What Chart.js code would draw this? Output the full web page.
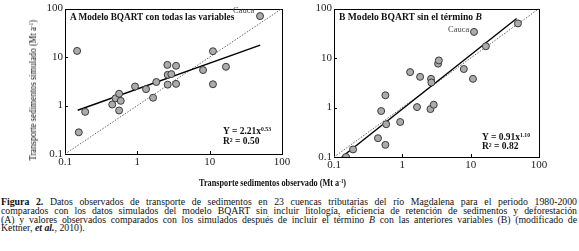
<!DOCTYPE html>
<html>
<head>
<meta charset="utf-8">
<script src="https://cdn.jsdelivr.net/npm/chart.js@4.4.1/dist/chart.umd.min.js"></script>
<style>
  body { margin: 0; background: #fff; width: 579px; height: 251px; overflow: hidden; position: relative; font-family: "Liberation Serif", serif; color: #111; }
  canvas { position: absolute; top: 0; }
  .t { position: absolute; white-space: nowrap; line-height: 1; transform-origin: 0 50%; }
  .b { font-weight: bold; }
  sup { font-size: 0.6em; vertical-align: 0.55em; line-height: 0; }
  .cap { position: absolute; left: 1px; width: 576px; font-size: 9.8px; line-height: 8.8px; }
  .cap div { text-align: justify; text-align-last: justify; white-space: nowrap; }
  .cap div.last { text-align-last: left; }
</style>
</head>
<body>
<canvas id="panelA" width="300" height="172" style="left:0"></canvas>
<canvas id="panelB" width="299" height="172" style="left:280px"></canvas>

<!-- textos de los paneles -->
<div class="t b" data-w="164" style="left:70px;top:12px;font-size:10px">A Modelo BQART con todas las variables</div>
<div class="t" style="left:233px;top:6px;font-size:8.5px;color:#444">Cauca</div>
<div class="t b" style="left:223px;top:127px;font-size:9.5px">Y = 2.21x<sup>0.53</sup></div>
<div class="t b" style="left:223px;top:137px;font-size:9.5px">R² = 0.50</div>

<div class="t b" data-w="143" style="left:339px;top:12px;font-size:10px">B Modelo BQART sin el término <i>B</i></div>
<div class="t" style="left:448px;top:25px;font-size:8.5px;color:#444">Cauca</div>
<div class="t b" style="left:482px;top:133px;font-size:9.5px">Y = 0.91x<sup>1.10</sup></div>
<div class="t b" style="left:482px;top:142px;font-size:9.5px">R² = 0.82</div>

<!-- titulos de ejes -->
<div id="ytitle" class="t" style="font-size:10.5px">Transporte sedimentos simulado (Mt a<sup>-1</sup>)</div>
<div class="t b" data-w="147" style="left:199px;top:178px;font-size:10px">Transporte sedimentos observado (Mt a<sup>-1</sup>)</div>

<div class="cap" style="top:198px">
  <div><b>Figura 2.</b> Datos observados de transporte de sedimentos en 23 cuencas tributarias del río Magdalena para el periodo 1980-2000</div>
  <div>comparados con los datos simulados del modelo BQART sin incluir litología, eficiencia de retención de sedimentos y deforestación</div>
  <div>(A) y valores observados comparados con los simulados después de incluir el término <i>B</i> con las anteriores variables (B) (modificado de</div>
  <div class="last">Kettner, <b><i>et al.</i></b>, 2010).</div>
</div>

<script>
// ejes log
const tickVals = [0.1, 1, 10, 100];
const tickLabels = ['0.1', '1', '10', '100'];

// Panel A: observado vs simulado (con todas las variables)
const obsA = [0.147, 0.155, 0.19, 0.45, 0.50, 0.56, 0.59, 0.56, 0.93, 1.32, 1.83, 1.65, 2.6, 2.63, 2.63, 2.95, 3.43, 3.43, 8.1, 11.1, 11.1, 16.8, 49.7];
const simA = [13.4, 0.28, 0.74, 1.05, 1.41, 1.75, 1.25, 0.79, 2.47, 2.18, 3.06, 1.45, 6.9, 4.3, 2.7, 4.45, 6.6, 2.8, 5.4, 13.2, 2.75, 6.3, 70];
const fitAx = [0.15, 50];
const fitAy = [0.80, 17.6];

// Panel B: sin el termino B
const obsB = [0.15, 0.19, 0.44, 0.565, 0.49, 0.58, 0.565, 0.93, 1.3, 1.64, 1.82, 2.58, 2.63, 2.66, 2.88, 3.34, 3.42, 7.94, 10.8, 11.2, 16.7, 49.2];
const simB = [0.1, 0.142, 0.24, 0.176, 0.85, 0.46, 1.77, 0.51, 5.2, 1.02, 4.17, 0.93, 3.8, 3.2, 1.14, 7.7, 8.96, 6.0, 3.8, 33.8, 17.3, 50.2];
const fitBx = [0.13, 47];
const fitBy = [0.1, 63];

// linea 1:1
const oneToOne = [0.1, 100];

const pairs = (xs, ys) => xs.map((x, i) => ({ x: x, y: ys[i] }));

// marco del grafico y marcas hacia dentro
const frame = {
    id: 'frame',
    beforeDatasetsDraw(chart) {
        const { ctx, chartArea: a, scales } = chart;
        ctx.save();
        ctx.strokeStyle = '#000';
        ctx.lineWidth = 1;
        ctx.strokeRect(Math.round(a.left) + 0.5, Math.round(a.top) + 0.5, Math.round(a.right - a.left), Math.round(a.bottom - a.top));
        ctx.beginPath();
        tickVals.slice(1, 3).forEach(v => {
            const px = Math.round(scales.x.getPixelForValue(v)) + 0.5;
            ctx.moveTo(px, a.bottom); ctx.lineTo(px, a.bottom - 3);
            const py = Math.round(scales.y.getPixelForValue(v)) + 0.5;
            ctx.moveTo(a.left, py); ctx.lineTo(a.left + 3, py);
        });
        ctx.stroke();
        ctx.restore();
    }
};

function logAxis(extra) {
    return Object.assign({
        type: 'logarithmic',
        min: 0.1,
        max: 100,
        afterBuildTicks: s => { s.ticks = tickVals.map(v => ({ value: v })); },
        ticks: {
            callback: (v, i) => tickLabels[i],
            font: { family: 'Liberation Serif', size: 11 },
            color: '#222',
            padding: 2,
            autoSkip: false,
            maxRotation: 0
        },
        grid: { display: false, drawTicks: false },
        border: { display: false }
    }, extra);
}

function makePanel(id, obs, sim, fx, fy, area) {
    const canvas = document.getElementById(id);
    const ctx = canvas.getContext('2d');
    return new Chart(ctx, {
        type: 'scatter',
        data: {
            datasets: [{
                data: pairs(obs, sim),
                backgroundColor: '#ababab',
                borderColor: '#3a3a3a',
                borderWidth: 1,
                pointRadius: 3.5
            }, {
                type: 'line',
                data: pairs(fx, fy),
                borderColor: '#000',
                borderWidth: 1.4,
                pointRadius: 0
            }, {
                type: 'line',
                data: pairs(oneToOne, oneToOne),
                borderColor: '#666',
                borderWidth: 1,
                borderDash: [1.5, 1.5],
                pointRadius: 0
            }]
        },
        options: {
            responsive: false,
            animation: false,
            layout: { padding: { left: 0, top: area.top, right: canvas.width - area.right, bottom: 0 } },
            plugins: { legend: { display: false }, tooltip: { enabled: false } },
            scales: {
                x: logAxis({ afterFit: s => { s.height = canvas.height - area.bottom; } }),
                y: logAxis({ afterFit: s => { s.width = area.left; } })
            }
        },
        plugins: [frame]
    });
}

makePanel('panelA', obsA, simA, fitAx, fitAy, { left: 65, right: 282, top: 6, bottom: 154 });
makePanel('panelB', obsB, simB, fitBx, fitBy, { left: 54, right: 259, top: 6, bottom: 157 });

// ajustar anchos de textos condensados
document.querySelectorAll('[data-w]').forEach(el => {
    const k = parseFloat(el.dataset.w) / el.offsetWidth;
    el.style.transform = 'scaleX(' + k + ')';
});
const yt = document.getElementById('ytitle');
const k = 141 / yt.offsetWidth;
yt.style.left = (33 - yt.offsetWidth / 2) + 'px';
yt.style.top = (90 - yt.offsetHeight / 2) + 'px';
yt.style.transformOrigin = '50% 50%';
yt.style.transform = 'rotate(-90deg) scaleX(' + k + ')';
</script>
</body>
</html>
